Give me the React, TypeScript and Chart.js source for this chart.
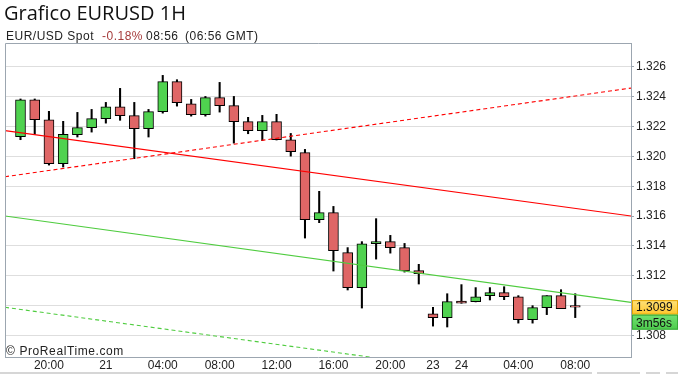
import { useEffect, useRef } from 'react';
import { Chart, registerables } from 'chart.js';

Chart.register(...registerables);

// ---- Data (EUR/USD, 1H candles) ----
const candleTimes = [
  '20 18:00', '20 19:00', '20 20:00', '20 21:00', '20 22:00', '20 23:00',
  '21 00:00', '21 01:00', '21 02:00', '21 03:00', '21 04:00', '21 05:00',
  '21 06:00', '21 07:00', '21 08:00', '21 09:00', '21 10:00', '21 11:00',
  '21 12:00', '21 13:00', '21 14:00', '21 15:00', '21 16:00', '21 17:00',
  '21 18:00', '21 19:00', '21 20:00', '21 21:00', '21 22:00',
  '23 22:00', '23 23:00',
  '24 00:00', '24 01:00', '24 02:00', '24 03:00', '24 04:00', '24 05:00',
  '24 06:00', '24 07:00', '24 08:00',
];
const opens = [
  1.32132, 1.32380, 1.32246, 1.31951, 1.32146, 1.32193, 1.32253, 1.32333, 1.32273, 1.32186,
  1.32300, 1.32501, 1.32353, 1.32280, 1.32394, 1.32340, 1.32233, 1.32173, 1.32233, 1.32112,
  1.32025, 1.31576, 1.31623, 1.31355, 1.31121, 1.31415, 1.31429, 1.31389, 1.31235, 1.30946,
  1.30920, 1.31030, 1.31027, 1.31067, 1.31087, 1.31060, 1.30906, 1.30987, 1.31067, 1.31000,
];
const highs = [
  1.32385, 1.32385, 1.32302, 1.32235, 1.32295, 1.32315, 1.32362, 1.32456, 1.32362, 1.32315,
  1.32543, 1.32514, 1.32382, 1.32402, 1.32496, 1.32402, 1.32262, 1.32275, 1.32282, 1.32154,
  1.32047, 1.31766, 1.31665, 1.31389, 1.31429, 1.31583, 1.31471, 1.31417, 1.31277, 1.30989,
  1.31080, 1.31141, 1.31121, 1.31121, 1.31127, 1.31067, 1.31000, 1.31067, 1.31107, 1.31080,
];
const lows = [
  1.32112, 1.32148, 1.31942, 1.31929, 1.32130, 1.32163, 1.32223, 1.32242, 1.31985, 1.32130,
  1.32290, 1.32337, 1.32270, 1.32270, 1.32297, 1.32089, 1.32152, 1.32106, 1.32110, 1.32002,
  1.31453, 1.31556, 1.31232, 1.31105, 1.30984, 1.31312, 1.31352, 1.31225, 1.31145, 1.30863,
  1.30857, 1.31016, 1.31025, 1.31038, 1.31040, 1.30883, 1.30883, 1.30940, 1.30980, 1.30920,
];
const closes = [
  1.32380, 1.32246, 1.31951, 1.32148, 1.32193, 1.32253, 1.32333, 1.32273, 1.32186, 1.32300,
  1.32501, 1.32360, 1.32280, 1.32394, 1.32340, 1.32233, 1.32173, 1.32233, 1.32112, 1.32032,
  1.31576, 1.31623, 1.31369, 1.31121, 1.31415, 1.31429, 1.31389, 1.31232, 1.31214, 1.30920,
  1.31027, 1.31016, 1.31060, 1.31087, 1.31060, 1.30906, 1.30987, 1.31067, 1.30980, 1.30990,
];

// Trend lines: values at the left and right edges of the plot
const trendRedSolid = [1.32173, 1.31601];
const trendRedDashed = [1.31864, 1.32458];
const trendGreenSolid = [1.31601, 1.31022];
const trendGreenDashed = [1.30989, 1.30417];

const xTickIndex = [2, 6, 10, 14, 18, 22, 26, 29, 31, 35, 39];
const xTickLabels = ['20:00', '21', '04:00', '08:00', '12:00', '16:00', '20:00', '23', '24', '04:00', '08:00'];
const yTicks = [1.308, 1.310, 1.312, 1.314, 1.316, 1.318, 1.320, 1.322, 1.324, 1.326];

const xMin = -1.09;
const xMax = 42.92;
const yMin = 1.30656;
const yMax = 1.3276;

const currentPrice = 1.3099;
const countdown = '3m56s';
const titleText = 'Grafico EURUSD 1H';
const subtitleParts = [
  { text: 'EUR/USD Spot', x: 6, color: '#222222' },
  { text: '-0.18%', x: 102, color: '#a63c3c' },
  { text: '08:56', x: 146, color: '#222222' },
  { text: '(06:56 GMT)', x: 185, color: '#222222' },
];
const watermark = '\u00a9 ProRealTime.com';

const UP = '#4fd24f';
const DOWN = '#df6666';
const FRAME = '#9ca6b0';
const FONT = '"Liberation Sans", Arial, Helvetica, sans-serif';

const decorPlugin = {
  id: 'decor',
  afterDraw(chart: any) {
    const { ctx, chartArea: a, scales } = chart;
    ctx.save();
    // frame top & left
    ctx.strokeStyle = FRAME;
    ctx.lineWidth = 1;
    ctx.beginPath();
    ctx.moveTo(a.left + 0.5, a.bottom);
    ctx.lineTo(a.left + 0.5, a.top + 0.5);
    ctx.lineTo(a.right, a.top + 0.5);
    ctx.stroke();

    // title
    ctx.fillStyle = '#111111';
    ctx.font = '20px "Open Sans", sans-serif';
    ctx.textBaseline = 'alphabetic';
    ctx.textAlign = 'left';
    ctx.fillText(titleText, 4, 20);

    // subtitle
    ctx.font = '12px ' + FONT;
    try { (ctx as any).letterSpacing = '0.5px'; } catch (e) {}
    subtitleParts.forEach((p) => {
      ctx.fillStyle = p.color;
      ctx.fillText(p.text, p.x, 39.5);
    });

    // watermark
    ctx.fillStyle = '#222222';
    try { (ctx as any).letterSpacing = '0.6px'; } catch (e) {}
    ctx.fillText(watermark, 6, 355);
    try { (ctx as any).letterSpacing = '0px'; } catch (e) {}

    // price boxes
    const py = scales.y.getPixelForValue(currentPrice);
    const bx = a.right + 1;
    const grad = ctx.createLinearGradient(0, py - 7, 0, py + 7);
    grad.addColorStop(0, '#ffe27a');
    grad.addColorStop(1, '#ffc62e');
    ctx.fillStyle = grad;
    ctx.fillRect(bx, py - 7, 46, 14.5);
    ctx.strokeStyle = '#e5a400';
    ctx.strokeRect(bx + 0.5, py - 6.5, 45, 13.5);
    const g2 = ctx.createLinearGradient(0, py + 7.5, 0, py + 22.5);
    g2.addColorStop(0, '#72e072');
    g2.addColorStop(1, '#4ccc4c');
    ctx.fillStyle = g2;
    ctx.fillRect(bx, py + 7.5, 46, 15);
    ctx.strokeStyle = '#38a838';
    ctx.strokeRect(bx + 0.5, py + 8, 45, 14);
    ctx.fillStyle = '#111111';
    ctx.font = '12px ' + FONT;
    ctx.fillText(currentPrice.toFixed(4), bx + 4, py + 3.5);
    ctx.fillText(countdown, bx + 4, py + 19.5);

    // bottom strip
    ctx.fillStyle = '#d6d6d6';
    ctx.fillRect(0, 372, 592, 2);
    ctx.fillRect(597, 372, 43, 2);
    ctx.fillRect(646, 372, 14, 2);
    ctx.fillRect(666, 372, 12, 2);
    ctx.restore();
  },
};

export default function App() {
  const ref = useRef<HTMLCanvasElement>(null);
  useEffect(() => {
    document.body.style.margin = '0';
    const idx = opens.map((_, i) => i);
    const lineDs = (vals: number[], color: string, dash: number[]) => ({
      type: 'line' as const,
      data: [{ x: xMin, y: vals[0] }, { x: xMax, y: vals[1] }],
      borderColor: color,
      borderWidth: 1.1,
      borderDash: dash,
      pointRadius: 0,
      fill: false,
      order: 1,
    });
    const chart = new Chart(ref.current as HTMLCanvasElement, {
      type: 'bar',
      data: {
        labels: candleTimes,
        datasets: [
          lineDs(trendRedSolid, '#ff0000', []),
          lineDs(trendRedDashed, '#ff0000', [4, 3]),
          lineDs(trendGreenSolid, '#4fcc3f', []),
          lineDs(trendGreenDashed, '#4fcc3f', [4, 3]),
          {
            type: 'bar',
            data: idx.map((i) => ({ x: i, y: [lows[i], highs[i]] })),
            backgroundColor: '#000000',
            barThickness: 1.4,
            grouped: false,
            order: 3,
          } as any,
          {
            type: 'bar',
            data: idx.map((i) => ({ x: i, y: [Math.min(opens[i], closes[i]), Math.max(opens[i], closes[i])] })),
            backgroundColor: idx.map((i) => (closes[i] >= opens[i] ? UP : DOWN)),
            borderColor: '#000000',
            borderWidth: 1,
            borderSkipped: false,
            barThickness: 10,
            grouped: false,
            order: 2,
          } as any,
        ],
      },
      options: {
        responsive: false,
        animation: false,
        events: [],
        layout: { padding: { top: 43, left: 5, right: 0, bottom: 0 } },
        plugins: { legend: { display: false }, tooltip: { enabled: false }, title: { display: false } },
        scales: {
          x: {
            type: 'linear',
            min: xMin,
            max: xMax,
            offset: false,
            afterBuildTicks: (ax: any) => { ax.ticks = xTickIndex.map((v) => ({ value: v })); },
            afterFit: (ax: any) => { ax.height = 17; },
            grid: { display: false, drawTicks: false },
            border: { color: FRAME, width: 1 },
            ticks: {
              autoSkip: false,
              maxRotation: 0,
              padding: 1,
              color: '#222222',
              font: { family: FONT, size: 12 },
              callback: (v: any) => {
                const k = xTickIndex.indexOf(Number(v));
                return k >= 0 ? xTickLabels[k] : '';
              },
            },
          },
          y: {
            type: 'linear',
            position: 'right',
            min: yMin,
            max: yMax,
            beginAtZero: false,
            afterBuildTicks: (ax: any) => { ax.ticks = yTicks.map((v) => ({ value: v })); },
            afterFit: (ax: any) => { ax.width = 47; },
            grid: { color: '#dedede', tickColor: FRAME, tickLength: 3 },
            border: { color: FRAME, width: 1 },
            ticks: {
              padding: 2,
              color: '#222222',
              font: { family: FONT, size: 12 },
              callback: (v: any) => Number(v).toFixed(3),
            },
          },
        },
      } as any,
      plugins: [decorPlugin],
    });
    return () => chart.destroy();
  }, []);
  return <canvas ref={ref} width={678} height={374} style={{ display: 'block' }} />;
}
